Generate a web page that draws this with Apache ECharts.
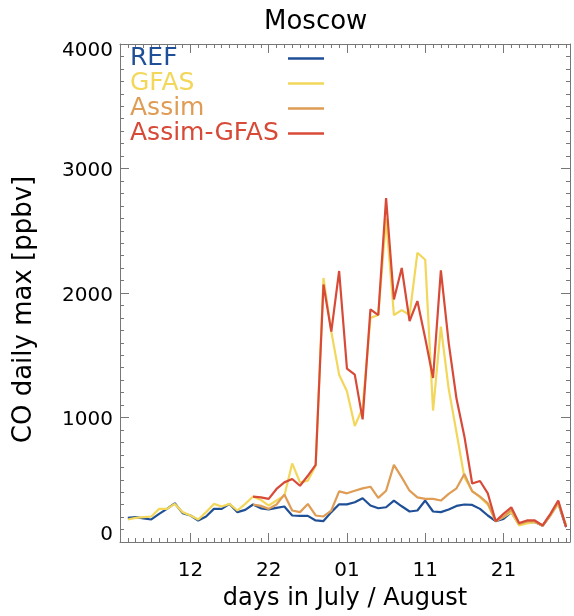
<!DOCTYPE html>
<html>
<head>
<meta charset="utf-8">
<script src="https://cdn.jsdelivr.net/npm/echarts@6/dist/echarts.min.js"></script>
<style>
html,body{margin:0;padding:0;background:#fff;}
#c{width:574px;height:616px;}
</style>
</head>
<body>
<div id="c"></div>
<script>
// ---- data (day of July; 32 = 1 August) ----
const days = [4,5,6,7,8,9,10,11,12,13,14,15,16,17,18,19,20,21,22,23,24,25,26,27,28,29,30,31,32,33,34,35,36,37,38,39,40,41,42,43,44,45,46,47,48,49,50,51,52,53,54,55,56,57,58,59,60];
const ref = [194,200,190,181,226,266,311,232,213,173,205,266,266,306,240,258,301,270,262,274,285,213,210,210,173,168,240,303,302,319,351,293,271,279,333,287,245,253,333,245,240,261,290,301,298,266,213,168,186,240,140,160,160,130,215,310,120];
const gfas = [181,194,200,205,266,266,306,240,213,181,240,306,285,306,253,306,365,338,293,333,372,631,479,492,612,2121,1690,1344,1211,931,1078,1800,1823,2600,1823,1863,1823,2323,2267,1056,1730,1230,880,520,410,360,300,168,200,240,133,150,160,133,213,306,140];
const assim = [null,null,null,null,null,null,null,null,null,null,null,null,null,null,null,null,300,290,266,301,381,253,240,306,213,205,253,407,391,412,431,444,354,412,620,519,412,359,346,346,333,386,431,546,407,365,311,168,200,260,145,165,165,130,220,320,125];
const assimGfas = [null,null,null,null,null,null,null,null,null,null,null,null,null,null,null,null,365,359,346,426,479,506,452,532,620,2068,1690,2177,1392,1344,985,1868,1823,2762,1948,2201,1775,1935,1637,1317,2182,1600,1150,850,470,490,390,168,226,279,152,173,173,133,226,333,120];
const seriesNames = ['REF','GFAS','Assim','Assim-GFAS'];
const xTickValues = [12,22,32,42,52];
const xTickLabels = ['12','22','01','11','21'];

const colors = ['#1f4f96','#f2d75a','#de9c55','#d84a38'];
const FONT = 'DejaVu Sans';
const AX = '#777';
const xMin = 3, xMax = 60.5;

const chart = echarts.init(document.getElementById('c'), null, {renderer:'canvas'});
const allSeries = [ref, gfas, assim, assimGfas];

function pairs(arr){ return days.map((d,i)=>[d, arr[i]]); }

const xBase = {type:'value', min:xMin, max:xMax, gridIndex:0, splitLine:{show:false}};
const rich = {};
seriesNames.forEach((n,i)=>{ rich['s'+i] = {color:colors[i], fontSize:25, fontFamily:FONT, width:153, align:'left', lineHeight:26}; });

chart.setOption({
  animation:false,
  backgroundColor:'#fff',
  color: colors,
  title:{text:'Moscow', left:264, top:9, padding:0, textStyle:{fontFamily:FONT, fontSize:26, fontWeight:'normal', color:'#000'}},
  legend:{
    orient:'vertical', left:130, top:46, align:'right', itemGap:0,
    itemWidth:36, itemHeight:2.5, icon:'rect', padding:0,
    data: seriesNames,
    formatter: function(name){ return '{s'+seriesNames.indexOf(name)+'|'+name+'}'; },
    textStyle:{fontFamily:FONT, fontSize:25, rich:rich}
  },
  grid:{left:120, right:4, top:44, bottom:71},
  xAxis:[
    Object.assign({}, xBase, {position:'bottom', name:'days in July / August', nameLocation:'middle', nameGap:45,
      nameTextStyle:{fontFamily:FONT, fontSize:24, color:'#000'},
      axisLine:{show:true, lineStyle:{color:AX, width:1}},
      axisTick:{show:true, inside:true, length:9, customValues:xTickValues, lineStyle:{color:AX}},
      axisLabel:{show:true, customValues:xTickValues, margin:19, fontFamily:FONT, fontSize:20, color:'#000',
        formatter:function(v){ const k = xTickValues.indexOf(Math.round(v)); return k>=0 ? xTickLabels[k] : ''; }}}),
    Object.assign({}, xBase, {position:'bottom', axisLine:{show:false}, axisLabel:{show:false},
      axisTick:{show:true, inside:true, length:4, customValues:days, lineStyle:{color:AX}}}),
    Object.assign({}, xBase, {position:'top', axisLine:{show:true, lineStyle:{color:AX, width:1}}, axisLabel:{show:false},
      axisTick:{show:true, inside:true, length:9, customValues:xTickValues, lineStyle:{color:AX}}}),
    Object.assign({}, xBase, {position:'top', axisLine:{show:false}, axisLabel:{show:false},
      axisTick:{show:true, inside:true, length:4, customValues:days, lineStyle:{color:AX}}})
  ],
  yAxis:[
    {type:'value', min:0, max:4000, interval:1000, position:'left',
      name:'CO daily max [ppbv]', nameLocation:'middle', nameGap:83,
      nameTextStyle:{fontFamily:FONT, fontSize:26, color:'#000', padding:[0,33,0,0]},
      splitLine:{show:false},
      axisLine:{show:true, lineStyle:{color:AX, width:1}},
      axisTick:{show:true, inside:true, length:9, lineStyle:{color:AX}},
      minorTick:{show:true, splitNumber:10, length:4, lineStyle:{color:AX}},
      axisLabel:{margin:7, fontFamily:FONT, fontSize:20, color:'#000',
        formatter:function(v){ if(v===4000) return '{t|4000}'; if(v===0) return '{b|0}'; return '{n|'+v+'}'; },
        rich:{
          t:{fontFamily:FONT, fontSize:20, color:'#000', padding:[13,0,0,0]},
          b:{fontFamily:FONT, fontSize:20, color:'#000', padding:[0,0,14,0]},
          n:{fontFamily:FONT, fontSize:20, color:'#000', padding:[5,0,0,0]}
        }}
    },
    {type:'value', min:0, max:4000, interval:1000, position:'right',
      splitLine:{show:false},
      axisLine:{show:true, lineStyle:{color:AX, width:1}},
      axisTick:{show:true, inside:true, length:9, lineStyle:{color:AX}},
      minorTick:{show:true, splitNumber:10, length:4, lineStyle:{color:AX}},
      axisLabel:{show:false}
    }
  ],
  series: seriesNames.map((n,i)=>({
    name:n, type:'line', xAxisIndex:0, yAxisIndex:0,
    data: pairs(allSeries[i]),
    showSymbol:false, symbol:'none', connectNulls:false,
    lineStyle:{width:2.2, color:colors[i]},
    itemStyle:{color:colors[i]},
    z: 2+i
  }))
});
</script>
</body>
</html>
